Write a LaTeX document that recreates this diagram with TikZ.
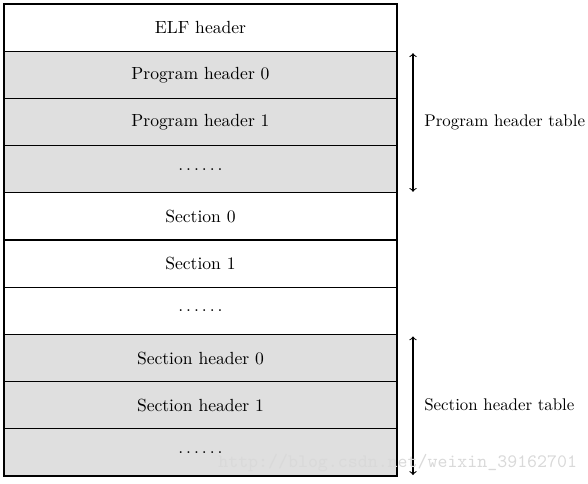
\documentclass[tikz,border=0pt]{standalone}
\usetikzlibrary{positioning}
\definecolor{hdrgray}{HTML}{DFDFDF}
\newcommand{\sixdots}{.\hspace{1.7pt}.\hspace{1.7pt}.\hspace{1.7pt}.\hspace{1.7pt}.\hspace{1.7pt}.}
\tikzset{
  field/.style={draw, line width=0.6pt, minimum width=7.86cm, minimum height=0.944cm, inner sep=0pt, outer sep=0pt},
  shaded/.style={field, fill=hdrgray},
  span/.style={<->, >=to, line width=0.6pt},
  tablabel/.style={font=\fontsize{9.6}{11}\selectfont, inner sep=0pt},
}
\begin{document}
\begin{tikzpicture}[node distance=0pt]
  \useasboundingbox (0,0) rectangle (11.76,-9.66);
  % File layout
  \node[field] (elf) at (4.01,-0.552) {ELF header};
  \node[shaded, below=of elf] (ph0) {Program header 0};
  \node[shaded, below=of ph0] (ph1) {Program header 1};
  \node[shaded, below=of ph1] (phdots) {\sixdots};
  \node[field, below=of phdots] (sec0) {Section 0};
  \node[field, below=of sec0] (sec1) {Section 1};
  \node[field, below=of sec1] (secdots) {\sixdots};
  \node[shaded, below=of secdots] (sh0) {Section header 0};
  \node[shaded, below=of sh0] (sh1) {Section header 1};
  \node[shaded, below=of sh1] (shdots) {\sixdots};
  % Table spans
  \coordinate (phtop) at ([xshift=0.32cm,yshift=-0.04cm]ph0.north east);
  \coordinate (phbot) at ([xshift=0.32cm,yshift=0.02cm]phdots.south east);
  \coordinate (shtop) at ([xshift=0.32cm,yshift=-0.04cm]sh0.north east);
  \coordinate (shbot) at ([xshift=0.32cm,yshift=0.02cm]shdots.south east);
  \draw[span] (phtop) -- (phbot);
  \draw[span] (shtop) -- (shbot);
  \node[tablabel, right=0.22cm of ph1.east -| phtop] (phlabel) {Program header table};
  \node[tablabel, right=0.22cm of sh1.east -| shtop] (shlabel) {Section header table};
  % Watermark
  \node[text=gray!30, font=\ttfamily\fontsize{10.8}{12}\selectfont, anchor=west, inner sep=0pt] (mark) at (4.36,-9.26) {http://blog.csdn.net/weixin\_39162701};
\end{tikzpicture}
\end{document}
